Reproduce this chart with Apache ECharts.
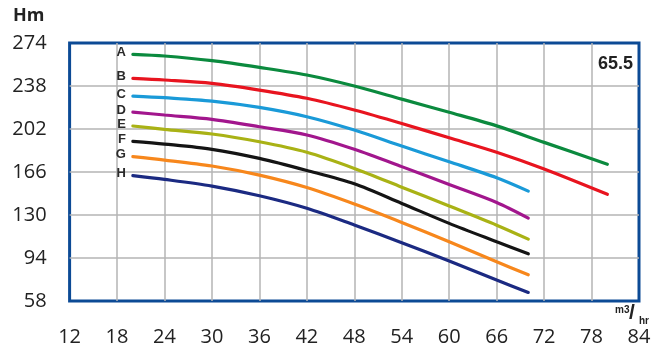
<!DOCTYPE html>
<html><head><meta charset="utf-8">
<script src="https://cdn.jsdelivr.net/npm/echarts@6/dist/echarts.min.js"></script>
<style>html,body{margin:0;padding:0;background:#fff}#c{width:658px;height:358px}</style>
</head><body><div id="c"></div>
<script>
var xTicks = [12,18,24,30,36,42,48,54,60,66,72,78,84];
var yTicks = [58,94,130,166,202,238,274];
var curveNames = ['A','B','C','D','E','F','G','H'];
var curveColors = ['#0b8a3e','#e8141f','#1a9ad8','#a2168d','#a9b215','#141414','#f7871c','#1b2a82'];
var curveA = [[20,264.5],[24,263.1],[30,259.2],[36,253.6],[42,247.2],[48,238],[54,227],[60,216],[66,204.6],[72,190.8],[80,172.5]];
var curveB = [[20,244.4],[24,243],[30,240.2],[36,234.6],[42,227.7],[48,217.9],[54,206.6],[60,194.6],[66,182.5],[72,168.5],[80,147.3]];
var curveC = [[20,229.6],[24,228.2],[30,225.4],[36,220.1],[42,212.3],[48,201.1],[54,187.7],[60,174.6],[66,161.2],[70,150]];
var curveD = [[20,216.2],[24,213.7],[30,210.1],[36,203.9],[42,197],[48,185],[54,170.5],[60,155.5],[66,140.5],[70,127.4]];
var curveE = [[20,204.5],[24,201.7],[30,197.8],[36,191.3],[42,182.5],[48,169],[54,153.3],[60,137.5],[66,121.5],[70,109.8]];
var curveF = [[20,191.7],[24,189.4],[30,185],[36,177.4],[42,167.3],[48,156.1],[54,139.7],[60,123],[66,107.6],[70,97.5]];
var curveG = [[20,178.8],[24,176],[30,171],[36,163.4],[42,153],[48,139.2],[54,123.8],[60,107.6],[66,90.8],[70,80]];
var curveH = [[20,162.9],[24,159.8],[30,154.2],[36,146.1],[42,135.6],[48,121.6],[54,106.8],[60,91.4],[66,75.5],[70,65.2]];
var curves = [curveA,curveB,curveC,curveD,curveE,curveF,curveG,curveH];
var modelLabel = '65.5';
var yUnit = 'Hm';

var chart = echarts.init(document.getElementById('c'));
var series = curves.map(function(d, i){
  return {
    type:'line', name:curveNames[i], smooth:0.3, showSymbol:true, symbol:'circle', symbolSize:0,
    lineStyle:{color:curveColors[i], width:3.2, cap:'round'},
    itemStyle:{color:curveColors[i]},
    data: d.map(function(p, j){
      if (j === 0) return {value:p, label:{show:true, position:'left', distance:7, offset:[0,-2], formatter:curveNames[i], fontFamily:'Liberation Sans', fontWeight:'bold', fontSize:13, color:'#2a2a2a'}};
      return {value:p};
    }),
    label:{show:false}, z:3, animation:false
  };
});
chart.setOption({
  animation:false,
  grid:{left:69.6, right:19, top:43, bottom:57, show:true, borderColor:'#0c4a95', borderWidth:3, backgroundColor:'#fff'},
  xAxis:{type:'value', min:12, max:84, interval:6,
    axisLine:{show:false}, axisTick:{show:false},
    axisLabel:{margin:26, fontFamily:'Open Sans', fontSize:20, color:'#222'},
    splitLine:{show:true, showMinLine:false, showMaxLine:false, lineStyle:{color:'#b4b4b4', width:1.5}}},
  yAxis:{type:'value', min:58, max:274, interval:36,
    axisLine:{show:false}, axisTick:{show:false},
    axisLabel:{margin:23, fontFamily:'Open Sans', fontSize:20, color:'#222'},
    splitLine:{show:true, showMinLine:false, showMaxLine:false, lineStyle:{color:'#b4b4b4', width:1.5}}},
  graphic:[
    {type:'text', left:13, top:7, style:{text:yUnit, font:'bold 18px "Open Sans"', fill:'#222'}},
    {type:'text', right:25, top:55, style:{text:modelLabel, font:'bold 18px "Liberation Sans"', fill:'#222'}},
    {type:'text', left:615, top:305, style:{text:'m3', font:'bold 10px "Liberation Sans"', fill:'#222'}},
    {type:'text', left:629, top:303, style:{text:'/', font:'bold 21px "Liberation Sans"', fill:'#222'}},
    {type:'text', left:639, top:316, style:{text:'hr', font:'bold 10px "Liberation Sans"', fill:'#222'}}
  ],
  series:series
});
</script></body></html>
